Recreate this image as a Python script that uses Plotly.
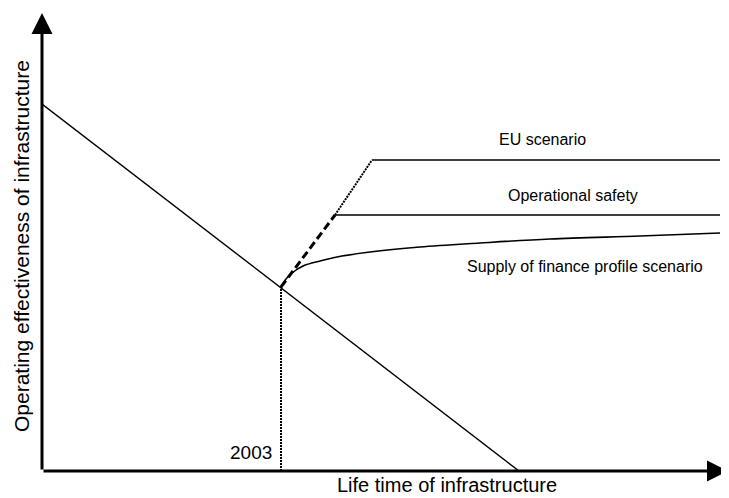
import plotly.graph_objects as go

# Conceptual chart: units are arbitrary
decline_x = [0, 477]
decline_y = [367, 0]

year_x = 239
year_y = 184

# safety rise ends at the corner where the EU dotted rise continues
safety_x = [year_x, 293, 678]
safety_y = [year_y, 256, 256]

eu_x = [293, 330, 678]
eu_y = [256, 311, 311]

finance_x = [239, 244, 250, 261, 278, 295, 328, 378, 438, 508, 598, 678]
finance_y = [184, 192, 198, 205, 210, 214, 219, 224, 228, 232, 235, 238]

x_max = 687
y_max = 463

FONT = "Arial, Liberation Sans, sans-serif"

fig = go.Figure()

# falling effectiveness
fig.add_trace(go.Scatter(x=decline_x, y=decline_y, mode="lines",
                         line={"color": "black", "width": 1.4}))

# 2003 marker line
fig.add_trace(go.Scatter(x=[year_x, year_x], y=[0, year_y], mode="lines",
                         line={"color": "black", "width": 2, "dash": "2px,1px"}))

# EU scenario: dotted rise then flat
fig.add_trace(go.Scatter(x=eu_x[:2], y=eu_y[:2], mode="lines",
                         line={"color": "black", "width": 2, "dash": "2px,1px"}))
fig.add_trace(go.Scatter(x=eu_x[1:], y=eu_y[1:], mode="lines",
                         line={"color": "black", "width": 1.6}))

# Operational safety: dashed rise then flat
fig.add_trace(go.Scatter(x=safety_x[:2], y=safety_y[:2], mode="lines",
                         line={"color": "black", "width": 3, "dash": "8px,4px"}))
fig.add_trace(go.Scatter(x=safety_x[1:], y=safety_y[1:], mode="lines",
                         line={"color": "black", "width": 1.6}))

# Supply of finance profile
fig.add_trace(go.Scatter(x=finance_x, y=finance_y, mode="lines", line_shape="spline",
                         line={"color": "black", "width": 1.6}))

# axis arrows
for tip, tail in [((0, y_max - 5), (0, 0)), ((x_max - 1, 0), (0, 0))]:
    fig.add_annotation(x=tip[0], y=tip[1], ax=tail[0], ay=tail[1],
                       xref="x", yref="y", axref="x", ayref="y",
                       showarrow=True, arrowhead=2, arrowsize=1.4,
                       arrowwidth=3, arrowcolor="black", text="")

labels = [
    ("EU scenario", 500, 332),
    ("Operational safety", 531, 276),
    ("Supply of finance profile scenario", 543, 205),
]
for txt, lx, ly in labels:
    fig.add_annotation(x=lx, y=ly, text=txt, showarrow=False,
                       font={"family": FONT, "size": 16, "color": "black"})

fig.add_annotation(x=209, y=19, text="2003", showarrow=False,
                   font={"family": FONT, "size": 19, "color": "black"})
fig.add_annotation(x=405, y=0, yshift=-14, text="Life time of infrastructure",
                   showarrow=False,
                   font={"family": FONT, "size": 20, "color": "black"})
fig.add_annotation(x=0, y=225, xshift=-21, text="Operating effectiveness of infrastructure",
                   showarrow=False, textangle=-90,
                   font={"family": FONT, "size": 21, "color": "black"})

# page body has an 8px margin, so the figure is sized to fit inside it
fig.update_layout(
    width=721, height=490,
    margin={"l": 34, "r": 0, "t": 0, "b": 27},
    paper_bgcolor="white", plot_bgcolor="white",
    showlegend=False,
    xaxis={"range": [0, x_max], "visible": False},
    yaxis={"range": [0, y_max], "visible": False},
)

fig.write_html("out.html")
